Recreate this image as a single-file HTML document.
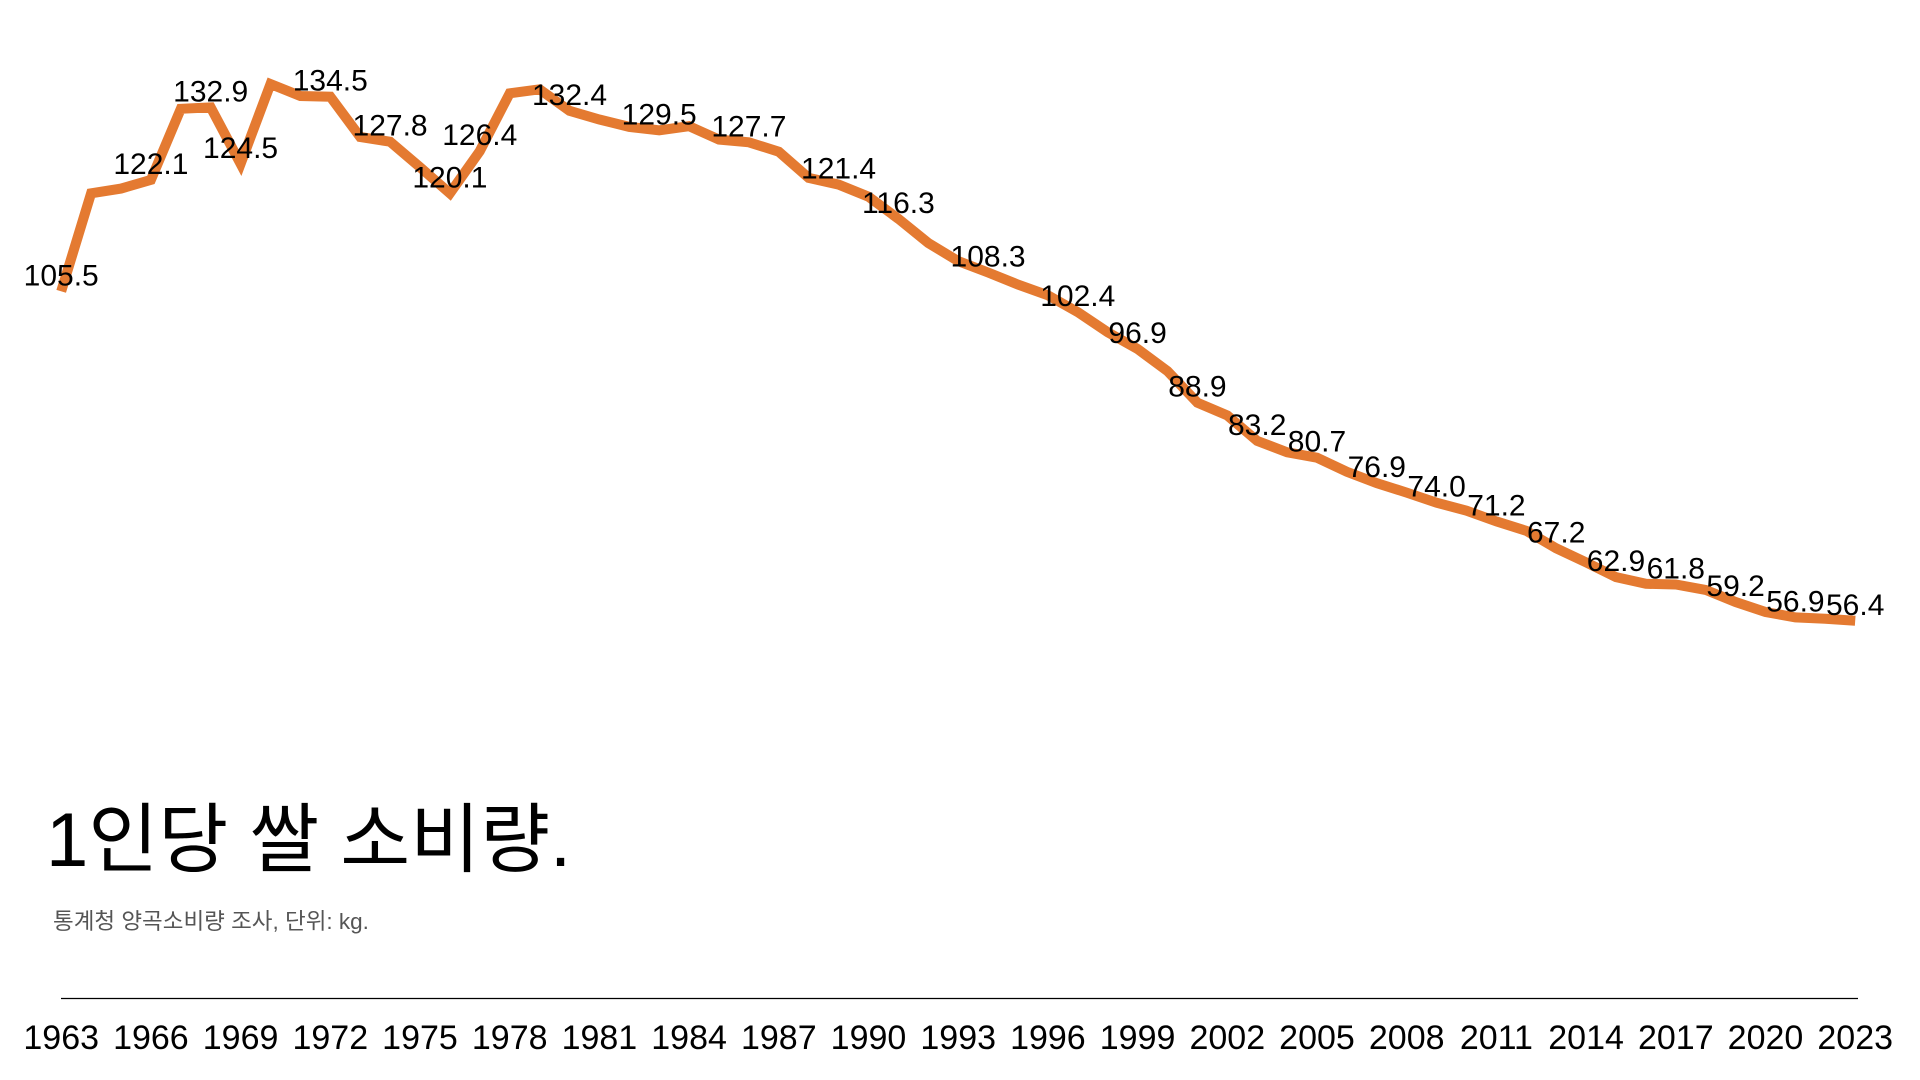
<!DOCTYPE html>
<html><head><meta charset="utf-8"><style>
html,body{margin:0;padding:0;background:#fff;width:1920px;height:1080px;overflow:hidden}
svg{display:block}
text{font-family:"Liberation Sans","Noto Sans CJK KR",sans-serif}
</style></head><body>
<svg id="c" width="1920" height="1080" xmlns="http://www.w3.org/2000/svg"></svg>
<script>
var v=[105.5,120.1,120.8,122.1,132.7,132.9,124.5,136.4,134.6,134.5,128.5,127.8,124,120.1,126.4,135.0,135.6,132.4,131.1,130,129.5,130.1,128.1,127.7,126.3,122.4,121.4,119.6,116.3,112.7,110,108.3,106.5,104.9,102.4,99.4,96.9,93.6,88.9,87,83.2,81.5,80.7,78.6,76.9,75.5,74.0,72.8,71.2,69.8,67.2,65.1,62.9,61.9,61.8,61.0,59.2,57.7,56.9,56.7,56.4];
var lab={1963:1,1966:1,1968:1,1969:1,1972:1,1974:1,1976:1,1977:1,1980:1,1983:1,1986:1,1989:1,1991:1,1994:1,1997:1,1999:1,2001:1,2003:1,2005:1,2007:1,2009:1,2011:1,2013:1,2015:1,2017:1,2019:1,2021:1,2023:1};
function X(i){return 61.2+i*29.9}
function Y(val){return 96.7+(134.5-val)*6.71}
var s='',pts=[];
for(var i=0;i<v.length;i++)pts.push(X(i).toFixed(1)+','+Y(v[i]).toFixed(1));
s+='<polyline points="'+pts.join(' ')+'" fill="none" stroke="#E47A31" stroke-width="10" stroke-linejoin="miter"/>';
for(var i=0;i<v.length;i++){var yr=1963+i;if(lab[yr])s+='<text x="'+X(i)+'" y="'+(Y(v[i])-6)+'" font-size="30" text-anchor="middle" fill="#000">'+v[i].toFixed(1)+'</text>';}
s+='<line x1="61" y1="998.5" x2="1858" y2="998.5" stroke="#000" stroke-width="1.3"/>';
for(var yr=1963;yr<=2023;yr+=3){s+='<text x="'+X(yr-1963)+'" y="1049" font-size="34" text-anchor="middle" fill="#000">'+yr+'</text>';}
s+='<text x="46" y="866" font-size="76" fill="#000">1인당 쌀 소비량.</text>';
s+='<text x="53" y="929" font-size="22.5" fill="#555">통계청 양곡소비량 조사, 단위: kg.</text>';
document.getElementById('c').innerHTML=s;
</script>
</body></html>
